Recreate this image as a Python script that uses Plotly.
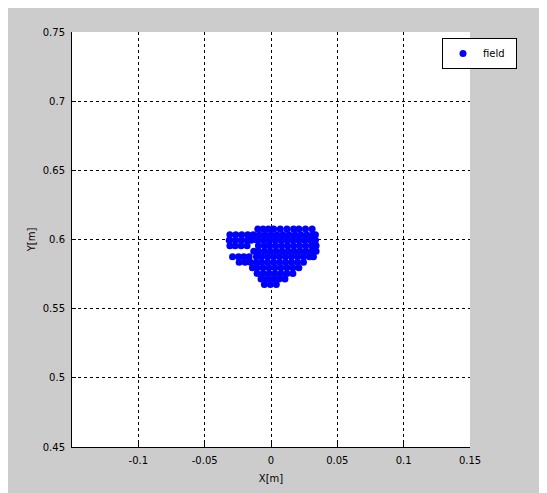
import plotly.graph_objects as go

# ---- data ----
row_y = [0.6075, 0.6035, 0.5995, 0.5955, 0.5915, 0.5875, 0.5835, 0.5795, 0.5755, 0.5715, 0.5675]
row_x = [
    [-0.010, -0.006, -0.002, 0.002, 0.007, 0.012, 0.017, 0.021, 0.026, 0.031],
    [-0.031, -0.0265, -0.022, -0.0175, -0.0135, -0.009, -0.0045, 0.0, 0.0045, 0.009, 0.0135, 0.018, 0.0225, 0.027, 0.0315, 0.0335],
    [-0.0315, -0.027, -0.0225, -0.018, -0.015, -0.0105, -0.006, -0.0015, 0.003, 0.0075, 0.012, 0.0165, 0.021, 0.0255, 0.030, 0.0335],
    [-0.031, -0.027, -0.0225, -0.018, -0.0095, -0.005, -0.001, 0.0035, 0.008, 0.0125, 0.017, 0.0215, 0.026, 0.0305, 0.034],
    [-0.013, -0.0095, -0.005, -0.0005, 0.004, 0.0085, 0.013, 0.0175, 0.022, 0.0265, 0.031, 0.034],
    [-0.029, -0.0245, -0.0205, -0.0165, -0.011, -0.007, -0.0025, 0.002, 0.0065, 0.011, 0.0155, 0.020, 0.0245, 0.029, 0.032],
    [-0.024, -0.0195, -0.0155, -0.011, -0.007, -0.0025, 0.002, 0.0065, 0.011, 0.0155, 0.020, 0.0245],
    [-0.014, -0.0105, -0.006, -0.0015, 0.003, 0.0075, 0.012, 0.0165, 0.021],
    [-0.0105, -0.006, -0.0015, 0.003, 0.0075, 0.012, 0.0165],
    [-0.0075, -0.003, 0.0015, 0.006, 0.0105],
    [-0.005, -0.0005, 0.004],
]
x_ticks = [-0.1, -0.05, 0, 0.05, 0.1, 0.15]
x_tick_labels = ["-0.1", "-0.05", "0", "0.05", "0.1", "0.15"]
y_ticks = [0.45, 0.5, 0.55, 0.6, 0.65, 0.7, 0.75]
y_tick_labels = ["0.45", "0.5", "0.55", "0.6", "0.65", "0.7", "0.75"]
series_name = "field"

xs, ys = [], []
for yv, row in zip(row_y, row_x):
    for xv in row:
        xs.append(xv)
        ys.append(yv)

# page body keeps its default 8px margin, so the figure is 8px smaller
W, H = 539, 485
L, R, T, B = 64, 77, 24, 46
pw, ph = W - L - R, H - T - B

fig = go.Figure()
fig.add_trace(go.Scatter(
    x=xs, y=ys, mode="markers", name=series_name + "\u00a0\u00a0",
    marker=dict(color="#0000ff", size=7, line=dict(width=0)),
))

font = dict(family="DejaVu Sans, sans-serif", size=10, color="#000000")
axis_common = dict(
    showgrid=True, gridcolor="#000000", gridwidth=1, griddash="dot",
    showline=True, linecolor="#000000", linewidth=1, mirror=False,
    ticks="inside", ticklen=4, tickcolor="#000000",
    zeroline=False, tickfont=font, ticklabelstandoff=4,
)
fig.update_xaxes(range=[-0.15, 0.15], tickvals=x_ticks, ticktext=x_tick_labels,
                 title=dict(text="X[m]", font=font, standoff=9), **axis_common)
fig.update_yaxes(range=[0.45, 0.75], tickvals=y_ticks, ticktext=y_tick_labels,
                 title=dict(text="Y[m]", font=font, standoff=5), **axis_common)

fig.update_layout(
    width=W, height=H,
    margin=dict(l=L, r=R, t=T, b=B, autoexpand=False),
    paper_bgcolor="#cccccc", plot_bgcolor="#ffffff",
    font=font,
    showlegend=True,
    legend=dict(
        x=(434 - L) / pw, y=1 - (30 - T) / ph, xanchor="left", yanchor="top",
        bgcolor="#ffffff", bordercolor="#000000", borderwidth=1,
        font=font, itemwidth=30, tracegroupgap=0,
    ),
)

fig.write_html("out.html")
